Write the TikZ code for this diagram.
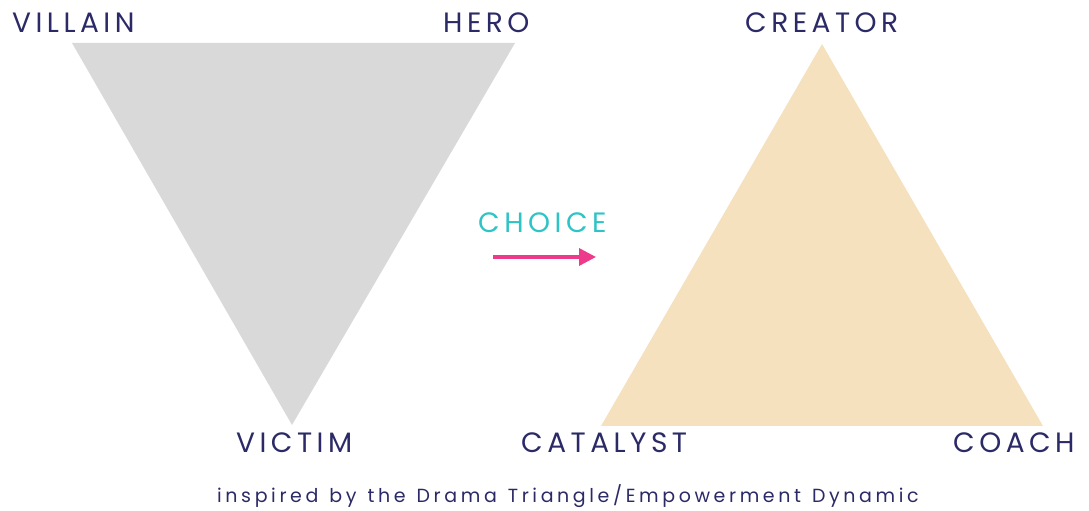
\documentclass[tikz,border=0pt]{standalone}
\usepackage{fontspec}
\setmainfont{Poppins}
\usetikzlibrary{arrows.meta}
\definecolor{navy}{HTML}{2B2A66}
\definecolor{teal}{HTML}{2EC4C6}
\definecolor{pinkc}{HTML}{EE3A8A}
\definecolor{grayt}{HTML}{D9D9D9}
\definecolor{beige}{HTML}{F5E1BE}
\newcommand{\widesp}{\spaceskip 11pt\relax}
\tikzset{
  lbl/.style={font=\fontsize{28}{30}\selectfont\addfontfeature{LetterSpace=16}, text=navy, inner sep=0pt, anchor=base west},
  sub/.style={font=\fontsize{19}{21}\selectfont\addfontfeature{LetterSpace=19}\widesp, text=navy, inner sep=0pt, anchor=base west},
}
\begin{document}
\begin{tikzpicture}[x=1pt,y=1pt]
\useasboundingbox (0,0) rectangle (1089,511);
% gray triangle
\fill[grayt] (72,468) -- (515,468) -- (292,86) -- cycle;
% beige triangle
\fill[beige] (822,467) -- (1043,85) -- (601,85) -- cycle;
% labels
\node[lbl] (villain) at (12,478) {VILLAIN};
\node[lbl] (hero) at (443,478) {HERO};
\node[lbl] (creator) at (745,478) {CREATOR};
\node[lbl] (victim) at (236,58) {VICTIM};
\node[lbl] (catalyst) at (521,58) {CATALYST};
\node[lbl] (coach) at (953,58) {COACH};
\node[lbl, text=teal] (choice) at (478,278) {CHOICE};
\coordinate (a1) at (493,254);
\coordinate (a2) at (596,254);
\draw[pinkc, line width=3.5pt, -{Triangle[length=17pt,width=17pt]}] (a1) -- (a2);
\node[sub] (credit) at (217,8) {inspired by the Drama Triangle/Empowerment Dynamic};
\end{tikzpicture}
\end{document}
